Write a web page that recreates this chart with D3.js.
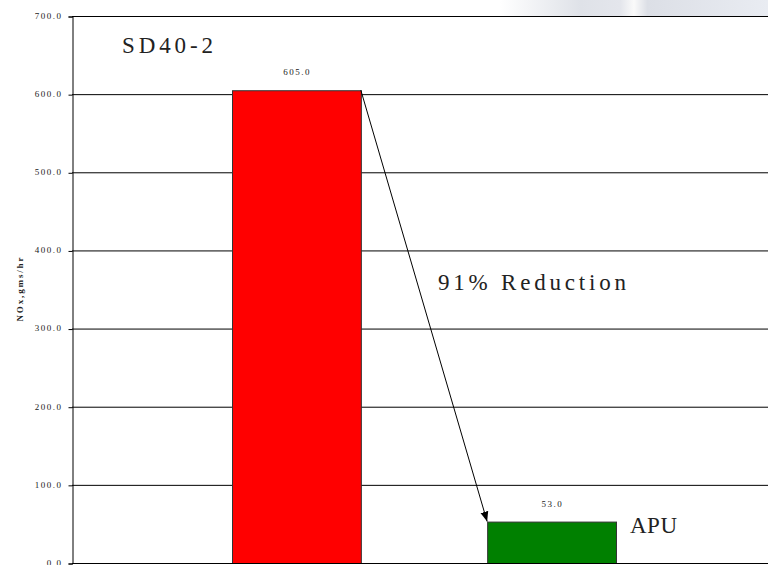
<!DOCTYPE html>
<html>
<head>
<meta charset="utf-8">
<script src="https://cdn.jsdelivr.net/npm/d3@7"></script>
<style>
  body { margin: 0; background: #fff; }
  text { font-family: "Liberation Serif", "DejaVu Serif", serif; fill: #222; }
</style>
</head>
<body>
<div id="chart"></div>
<script>
var categories = ["SD40-2", "APU"];
var values = [605, 53];
var barColors = ["#ff0000", "#008000"];
var yTicks = [0, 100, 200, 300, 400, 500, 600, 700];
var yTitle = "NOx,gms/hr";
var noteText = "91% Reduction";

var W = 768, H = 565;
var svg = d3.select("#chart").append("svg")
    .attr("width", W)
    .attr("height", H);

// faint slide background showing at top right
var defs = svg.append("defs");
var grad = defs.append("linearGradient").attr("id", "bg")
    .attr("x1", "0").attr("x2", "1").attr("y1", "0").attr("y2", "0");
grad.append("stop").attr("offset", "0").attr("stop-color", "#fff");
grad.append("stop").attr("offset", "0.3").attr("stop-color", "#dfe2e8");
grad.append("stop").attr("offset", "0.45").attr("stop-color", "#e4e6ec");
grad.append("stop").attr("offset", "0.5").attr("stop-color", "#fafafa");
grad.append("stop").attr("offset", "0.55").attr("stop-color", "#dcdfe6");
grad.append("stop").attr("offset", "1").attr("stop-color", "#e9ecf2");
svg.append("rect").attr("x", 500).attr("y", 0).attr("width", 268).attr("height", 16)
    .attr("fill", "url(#bg)");

var x0 = 72, yTop = 16, yBot = 563;
var fmt = d3.format(".1f");

var y = d3.scaleLinear().domain([0, 700]).range([yBot, yTop]);
var x = d3.scaleBand().domain(categories).range([232, 616])
    .paddingInner(0.495).paddingOuter(0);

// gridlines
svg.append("g").selectAll("line").data(yTicks).enter().append("line")
    .attr("x1", x0).attr("x2", W)
    .attr("y1", function(d) { return y(d) + 0.5; })
    .attr("y2", function(d) { return y(d) + 0.5; })
    .attr("stroke", "#000").attr("stroke-width", 1);

// y axis
var yAxis = d3.axisLeft(y).tickValues(yTicks).tickFormat(fmt).tickSize(4).tickPadding(6);
var gy = svg.append("g").attr("transform", "translate(" + (x0 + 0.5) + ",0.5)").call(yAxis);
gy.select(".domain").attr("stroke", "#000");
gy.selectAll(".tick line").attr("stroke", "#000");
gy.selectAll(".tick text")
    .attr("font-family", "Liberation Serif")
    .attr("font-size", 9)
    .attr("fill", "#333")
    .attr("dy", "0.2em")
    .style("letter-spacing", "1.5px");

// y title
svg.append("text")
    .attr("transform", "translate(23," + ((yTop + yBot) / 2) + ") rotate(-90)")
    .attr("text-anchor", "middle")
    .attr("font-size", 9)
    .attr("font-weight", "bold")
    .attr("textLength", 64)
    .attr("lengthAdjust", "spacing")
    .text(yTitle);

// bars
svg.append("g").selectAll("rect").data(values).enter().append("rect")
    .attr("x", function(d, i) { return x(categories[i]) + 0.5; })
    .attr("y", function(d) { return y(d) + 0.5; })
    .attr("width", x.bandwidth())
    .attr("height", function(d) { return y(0) - y(d); })
    .attr("fill", function(d, i) { return barColors[i]; })
    .attr("stroke", "#333").attr("stroke-width", 1);

// value labels
svg.append("g").selectAll("text").data(values).enter().append("text")
    .attr("x", function(d, i) { return x(categories[i]) + x.bandwidth() / 2 + 0.75; })
    .attr("y", function(d) { return y(d) - 15; })
    .attr("text-anchor", "middle")
    .attr("font-size", 9)
    .attr("fill", "#333")
    .style("letter-spacing", "1.5px")
    .text(function(d) { return fmt(d); });

// bottom axis line
svg.append("line").attr("x1", x0).attr("x2", W)
    .attr("y1", yBot + 0.5).attr("y2", yBot + 0.5)
    .attr("stroke", "#000");

// category labels
svg.append("text").attr("x", 122).attr("y", 53)
    .attr("font-size", 23).attr("fill", "#111")
    .attr("textLength", 91).attr("lengthAdjust", "spacing")
    .text(categories[0]);
svg.append("text").attr("x", x(categories[1]) + x.bandwidth() + 14).attr("y", 533)
    .attr("font-size", 23).attr("fill", "#111")
    .attr("textLength", 47).attr("lengthAdjust", "spacing")
    .text(categories[1]);

// reduction arrow
defs.append("marker").attr("id", "arrow")
    .attr("viewBox", "0 0 10 10").attr("refX", 10).attr("refY", 5)
    .attr("markerWidth", 10).attr("markerHeight", 10)
    .attr("markerUnits", "userSpaceOnUse")
    .attr("orient", "auto")
    .append("path").attr("d", "M0,1 L10,5 L0,9 Z").attr("fill", "#000");
svg.append("line")
    .attr("x1", x(categories[0]) + x.bandwidth()).attr("y1", y(values[0]))
    .attr("x2", x(categories[1])).attr("y2", y(values[1]))
    .attr("stroke", "#000").attr("stroke-width", 1)
    .attr("marker-end", "url(#arrow)");

svg.append("text").attr("x", 438).attr("y", 290)
    .attr("font-size", 23).attr("fill", "#111")
    .attr("textLength", 188).attr("lengthAdjust", "spacing")
    .text(noteText);
</script>
</body>
</html>
